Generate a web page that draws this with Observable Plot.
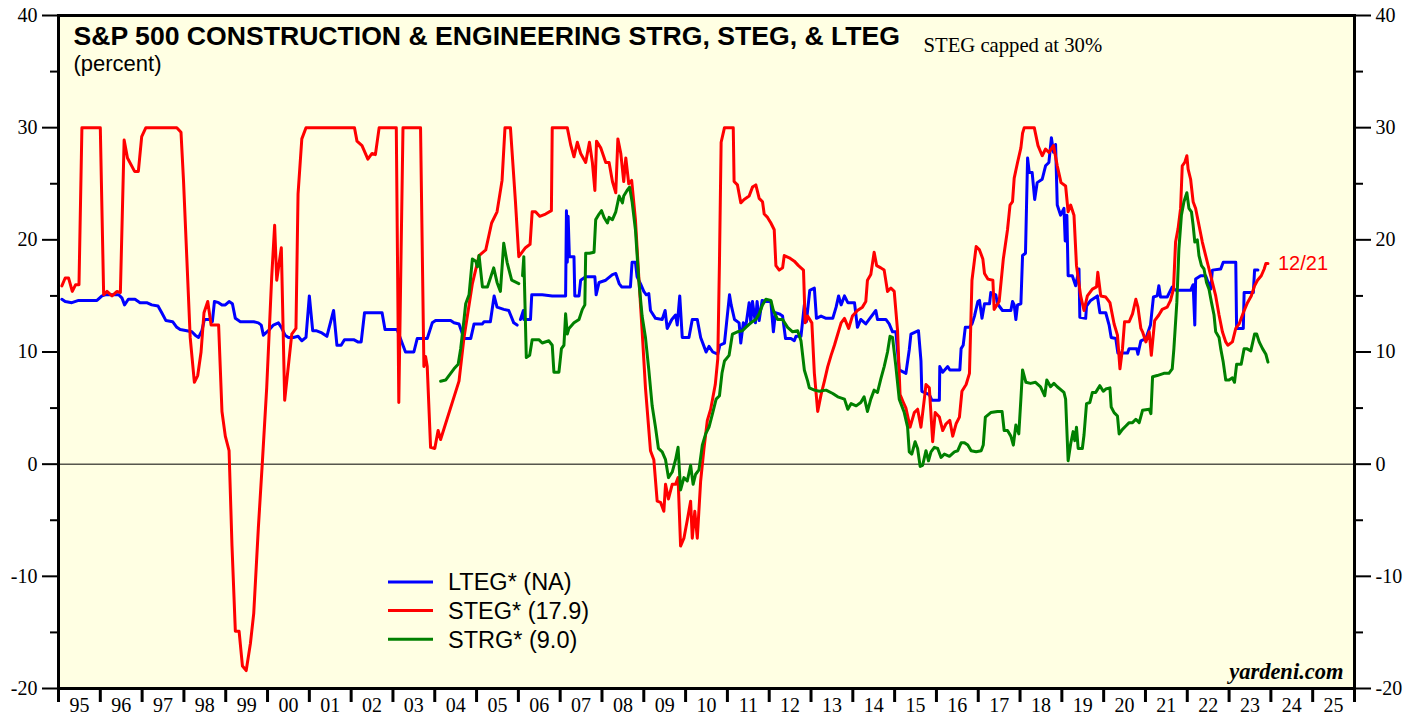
<!DOCTYPE html>
<html><head><meta charset="utf-8">
<script src="https://cdn.jsdelivr.net/npm/d3@7"></script>
<script src="https://cdn.jsdelivr.net/npm/@observablehq/plot@0.6"></script>
<style>
html,body{margin:0;padding:0;background:#fff;overflow:hidden}
#chart svg{display:block}
</style></head><body><div id="chart"></div>
<script>
const title = "S&P 500 CONSTRUCTION & ENGINEERING STRG, STEG, & LTEG";
const subtitle = "(percent)";
const note = "STEG capped at 30%";
const credit = "yardeni.com";
const endLabel = "12/21";
const xLabels = ["95","96","97","98","99","00","01","02","03","04","05","06","07","08","09","10","11","12","13","14","15","16","17","18","19","20","21","22","23","24","25"];
const yTicks = [-20,-10,0,10,20,30,40];
const yMinorTicks = [-15,-5,5,15,25,35];
const seriesNames = ["LTEG*","STEG*","STRG*"];
const seriesLatest = ["NA","17.9","9.0"];
const seriesColors = ["#0000ff","#ff0000","#008000"];

// [decimal year, percent]
const lteg = [[1995.08,14.7],[1995.16,14.5],[1995.32,14.4],[1995.48,14.6],[1995.80,14.6],[1995.92,14.6],[1996.04,15.0],[1996.12,15.1],[1996.44,15.1],[1996.52,14.8],[1996.58,14.2],[1996.67,14.7],[1996.83,14.7],[1996.95,14.4],[1997.11,14.4],[1997.23,14.2],[1997.38,14.1],[1997.47,13.5],[1997.57,12.8],[1997.73,12.7],[1997.83,12.2],[1997.91,12.0],[1998.07,11.9],[1998.19,11.8],[1998.27,11.5],[1998.35,11.3],[1998.43,11.9],[1998.49,12.9],[1998.63,12.9],[1998.68,12.7],[1998.73,14.5],[1998.83,14.4],[1998.91,14.2],[1998.99,14.2],[1999.08,14.5],[1999.16,14.3],[1999.23,13.0],[1999.35,12.7],[1999.67,12.7],[1999.78,12.6],[1999.85,12.4],[1999.90,11.5],[2000.02,11.9],[2000.14,12.4],[2000.26,12.6],[2000.33,12.2],[2000.42,11.5],[2000.50,11.3],[2000.62,11.3],[2000.73,11.4],[2000.82,11.0],[2000.92,11.3],[2001.00,15.0],[2001.08,11.9],[2001.16,11.9],[2001.30,11.7],[2001.42,11.4],[2001.58,13.7],[2001.66,10.6],[2001.76,10.6],[2001.84,11.1],[2002.06,11.1],[2002.16,10.9],[2002.24,10.9],[2002.32,13.5],[2002.74,13.5],[2002.81,12.0],[2003.10,12.0],[2003.21,10.9],[2003.30,10.0],[2003.50,10.0],[2003.58,11.2],[2003.82,11.2],[2003.94,12.6],[2004.02,12.8],[2004.38,12.8],[2004.46,12.6],[2004.58,12.5],[2004.70,11.2],[2004.86,11.2],[2004.94,12.5],[2005.14,12.5],[2005.18,12.7],[2005.33,12.7],[2005.42,15.0],[2005.49,14.0],[2005.65,13.8],[2005.77,13.7],[2005.89,12.6],[2005.97,12.4],[2006.00,null],[2006.05,12.9],[2006.12,13.7],[2006.13,12.9],[2006.29,12.9],[2006.32,15.1],[2006.57,15.1],[2006.81,15.0],[2007.13,15.0],[2007.15,22.6],[2007.17,18.0],[2007.19,22.1],[2007.22,18.5],[2007.33,18.5],[2007.35,15.0],[2007.45,15.0],[2007.49,16.4],[2007.61,16.7],[2007.83,16.7],[2007.86,15.1],[2007.93,16.2],[2008.09,16.4],[2008.25,16.9],[2008.33,17.0],[2008.41,16.1],[2008.47,15.8],[2008.68,15.8],[2008.72,18.0],[2008.80,18.0],[2008.84,16.7],[2008.92,16.1],[2009.00,15.4],[2009.06,15.1],[2009.12,15.2],[2009.16,13.7],[2009.28,13.0],[2009.44,12.9],[2009.51,13.7],[2009.56,12.1],[2009.67,12.9],[2009.76,13.3],[2009.80,12.4],[2009.86,15.0],[2009.92,11.3],[2010.08,11.3],[2010.16,12.9],[2010.28,12.9],[2010.36,11.3],[2010.44,10.5],[2010.49,10.0],[2010.56,10.5],[2010.65,10.0],[2010.77,9.8],[2010.82,10.6],[2010.93,10.8],[2010.98,12.6],[2011.05,15.1],[2011.09,14.2],[2011.17,12.9],[2011.28,12.6],[2011.32,10.8],[2011.38,12.6],[2011.44,12.3],[2011.52,14.4],[2011.56,12.6],[2011.60,14.5],[2011.67,12.6],[2011.71,14.5],[2011.76,12.8],[2011.83,14.6],[2011.92,14.5],[2012.04,14.5],[2012.10,11.8],[2012.15,13.5],[2012.24,13.4],[2012.32,13.2],[2012.39,11.2],[2012.52,11.2],[2012.60,11.0],[2012.64,11.4],[2012.76,11.4],[2012.84,14.2],[2012.89,12.7],[2012.97,15.5],[2013.08,15.7],[2013.13,13.0],[2013.24,13.2],[2013.36,13.0],[2013.52,13.0],[2013.60,14.0],[2013.66,15.0],[2013.72,14.2],[2013.80,15.0],[2013.88,14.4],[2014.04,14.4],[2014.11,12.2],[2014.19,12.9],[2014.31,12.5],[2014.39,12.9],[2014.55,13.7],[2014.59,12.9],[2014.79,12.9],[2014.87,12.5],[2014.95,11.8],[2015.03,11.8],[2015.11,8.4],[2015.27,8.1],[2015.35,10.2],[2015.39,11.6],[2015.57,11.9],[2015.63,9.2],[2015.65,6.5],[2015.83,6.2],[2015.89,5.7],[2016.07,5.7],[2016.08,8.7],[2016.15,8.2],[2016.27,8.7],[2016.32,8.4],[2016.56,8.4],[2016.59,10.3],[2016.64,10.6],[2016.69,12.2],[2016.79,12.2],[2016.85,12.5],[2016.91,13.2],[2016.99,14.5],[2017.03,14.6],[2017.09,13.0],[2017.15,14.3],[2017.27,14.3],[2017.30,15.3],[2017.42,15.1],[2017.46,14.3],[2017.58,13.7],[2017.78,13.7],[2017.82,14.5],[2017.86,14.2],[2017.90,12.9],[2017.94,14.2],[2018.02,14.3],[2018.06,18.6],[2018.13,18.8],[2018.18,27.3],[2018.22,26.0],[2018.29,26.0],[2018.35,23.6],[2018.41,25.1],[2018.53,25.4],[2018.61,26.6],[2018.69,26.9],[2018.75,29.1],[2018.80,27.8],[2018.85,28.5],[2018.89,23.1],[2018.97,22.2],[2019.05,22.8],[2019.08,19.9],[2019.12,22.2],[2019.15,16.8],[2019.25,16.8],[2019.33,15.9],[2019.41,17.4],[2019.43,13.1],[2019.57,13.0],[2019.59,14.1],[2019.69,14.6],[2019.85,15.0],[2019.91,13.5],[2020.05,13.5],[2020.13,12.4],[2020.18,11.3],[2020.29,11.2],[2020.34,9.9],[2020.57,9.9],[2020.61,10.3],[2020.79,10.3],[2020.82,9.8],[2020.89,11.0],[2021.01,11.2],[2021.12,12.4],[2021.19,14.9],[2021.28,15.0],[2021.32,15.9],[2021.36,14.9],[2021.52,14.9],[2021.64,15.8],[2021.72,15.5],[2022.08,15.5],[2022.14,16.0],[2022.18,12.4],[2022.20,16.5],[2022.32,16.8],[2022.44,16.8],[2022.56,15.6],[2022.60,17.3],[2022.80,17.4],[2022.86,18.0],[2023.16,18.0],[2023.18,12.1],[2023.34,12.1],[2023.36,15.3],[2023.58,15.3],[2023.61,17.3],[2023.69,17.3]];

const steg = [[1995.08,15.9],[1995.16,16.6],[1995.24,16.6],[1995.33,15.4],[1995.41,16.0],[1995.49,16.0],[1995.56,30],[1996.00,30],[1996.08,15.1],[1996.16,15.4],[1996.28,15.0],[1996.40,15.4],[1996.48,15.3],[1996.57,28.9],[1996.65,27.3],[1996.82,26.1],[1996.91,26.1],[1996.99,29.2],[1997.09,30],[1997.83,30],[1997.93,29.6],[1997.99,25.3],[1998.07,18.3],[1998.15,11.3],[1998.25,7.3],[1998.33,7.9],[1998.41,10.0],[1998.48,13.5],[1998.57,14.5],[1998.65,12.4],[1998.83,12.4],[1998.91,4.7],[1998.99,2.5],[1999.08,1.2],[1999.15,-7.3],[1999.23,-14.9],[1999.32,-14.9],[1999.40,-18.0],[1999.49,-18.4],[1999.59,-16.0],[1999.67,-13.3],[1999.78,-5.7],[1999.88,0.4],[1999.98,6.8],[2000.10,16.7],[2000.17,21.3],[2000.22,16.4],[2000.33,19.3],[2000.41,5.7],[2000.58,11.6],[2000.68,12.1],[2000.73,24.1],[2000.82,29.0],[2000.92,30],[2002.08,30],[2002.14,28.8],[2002.26,28.4],[2002.40,27.2],[2002.50,27.7],[2002.58,27.6],[2002.67,30],[2003.08,30],[2003.14,5.5],[2003.24,30],[2003.66,30],[2003.74,8.7],[2003.78,9.6],[2003.82,8.7],[2003.90,1.5],[2004.00,1.4],[2004.08,3.0],[2004.14,2.2],[2004.58,7.4],[2004.70,11.3],[2004.90,16.1],[2005.06,18.6],[2005.22,19.1],[2005.36,21.5],[2005.49,22.5],[2005.61,25.3],[2005.68,30],[2005.81,30],[2005.93,23.4],[2006.01,18.5],[2006.09,18.9],[2006.17,19.3],[2006.28,19.6],[2006.33,22.5],[2006.41,22.5],[2006.51,22.1],[2006.65,22.3],[2006.79,22.6],[2006.81,30],[2007.17,30],[2007.25,28.5],[2007.33,27.4],[2007.41,28.7],[2007.49,27.7],[2007.61,26.9],[2007.70,28.7],[2007.77,26.9],[2007.83,24.4],[2007.87,28.8],[2007.97,28.2],[2008.09,26.9],[2008.17,26.9],[2008.25,25.2],[2008.33,24.2],[2008.38,29.0],[2008.45,27.7],[2008.52,25.2],[2008.57,27.3],[2008.64,25.0],[2008.71,25.3],[2008.80,21.8],[2008.88,16.7],[2008.96,11.9],[2009.04,6.8],[2009.16,1.2],[2009.24,0.4],[2009.32,-3.3],[2009.40,-3.4],[2009.48,-4.2],[2009.52,-1.8],[2009.59,-3.1],[2009.68,-1.8],[2009.76,-1.8],[2009.82,-1.2],[2009.88,-7.3],[2009.96,-6.6],[2010.04,-5.0],[2010.12,-3.3],[2010.16,-6.6],[2010.22,-4.2],[2010.28,-6.6],[2010.36,-1.5],[2010.44,1.4],[2010.52,3.9],[2010.60,4.9],[2010.71,7.1],[2010.77,9.4],[2010.81,18.0],[2010.85,28.7],[2010.93,30],[2011.14,30],[2011.16,25.2],[2011.24,24.9],[2011.32,23.3],[2011.40,23.6],[2011.52,23.9],[2011.60,24.7],[2011.68,24.9],[2011.76,23.7],[2011.84,23.4],[2011.88,22.3],[2011.96,22.0],[2012.04,21.5],[2012.12,20.9],[2012.16,17.7],[2012.24,17.3],[2012.32,17.5],[2012.36,18.6],[2012.48,18.4],[2012.60,18.1],[2012.70,17.7],[2012.82,17.3],[2012.86,12.6],[2012.92,13.2],[2013.02,12.6],[2013.08,8.1],[2013.16,4.7],[2013.24,6.2],[2013.32,7.4],[2013.40,8.7],[2013.48,9.7],[2013.56,10.6],[2013.64,11.6],[2013.72,12.6],[2013.80,13.0],[2013.90,12.1],[2013.99,13.2],[2014.11,13.7],[2014.23,14.0],[2014.31,14.5],[2014.35,16.4],[2014.43,16.9],[2014.51,18.9],[2014.57,17.7],[2014.67,17.5],[2014.75,17.3],[2014.83,15.4],[2014.91,15.7],[2014.99,15.4],[2015.07,11.9],[2015.13,6.2],[2015.21,5.5],[2015.27,5.0],[2015.37,3.3],[2015.47,4.6],[2015.55,4.9],[2015.63,3.3],[2015.71,5.8],[2015.75,7.1],[2015.83,6.8],[2015.91,2.0],[2015.97,4.6],[2016.07,4.2],[2016.15,3.0],[2016.23,3.6],[2016.32,3.9],[2016.39,2.5],[2016.47,3.6],[2016.55,4.2],[2016.61,6.5],[2016.71,7.1],[2016.79,8.1],[2016.85,16.4],[2016.95,19.4],[2017.03,19.1],[2017.11,18.3],[2017.15,17.0],[2017.23,16.5],[2017.35,16.4],[2017.38,13.8],[2017.50,14.5],[2017.60,18.3],[2017.70,20.9],[2017.76,23.1],[2017.82,23.4],[2017.86,25.5],[2017.94,26.9],[2018.02,28.2],[2018.06,29.5],[2018.10,30],[2018.34,30],[2018.43,28.4],[2018.53,27.5],[2018.61,28.1],[2018.69,27.8],[2018.80,28.4],[2018.89,26.6],[2018.98,25.1],[2019.09,24.8],[2019.15,22.5],[2019.21,23.1],[2019.29,22.2],[2019.35,17.7],[2019.45,15.0],[2019.53,13.7],[2019.61,15.0],[2019.73,15.6],[2019.83,15.8],[2019.86,17.1],[2019.93,15.0],[2020.05,14.9],[2020.15,14.4],[2020.25,12.5],[2020.33,11.5],[2020.39,8.5],[2020.45,10.3],[2020.50,12.7],[2020.61,12.7],[2020.69,13.4],[2020.77,14.7],[2020.82,14.0],[2020.89,12.1],[2020.93,11.8],[2021.01,10.9],[2021.09,11.8],[2021.14,9.7],[2021.22,12.8],[2021.32,13.3],[2021.40,13.8],[2021.52,14.0],[2021.60,14.6],[2021.67,15.6],[2021.72,19.8],[2021.78,21.0],[2021.84,22.8],[2021.88,26.6],[2021.94,26.9],[2021.99,27.5],[2022.02,26.3],[2022.08,25.4],[2022.14,23.4],[2022.20,22.8],[2022.28,21.3],[2022.36,19.8],[2022.44,18.6],[2022.52,17.4],[2022.60,16.2],[2022.68,15.0],[2022.76,13.3],[2022.84,11.8],[2022.92,10.9],[2022.97,10.6],[2023.08,10.9],[2023.16,12.1],[2023.24,12.5],[2023.34,13.5],[2023.44,14.4],[2023.53,15.0],[2023.61,15.9],[2023.68,16.4],[2023.77,16.8],[2023.84,17.4],[2023.88,17.9],[2023.93,17.9]];

const strg = [[2004.14,7.4],[2004.26,7.5],[2004.38,8.1],[2004.46,8.5],[2004.56,8.9],[2004.62,10.3],[2004.70,12.9],[2004.74,14.3],[2004.82,15.1],[2004.86,16.7],[2004.90,18.3],[2004.98,18.1],[2005.02,17.6],[2005.06,18.6],[2005.14,15.8],[2005.26,15.8],[2005.34,16.7],[2005.41,17.5],[2005.49,16.2],[2005.57,15.4],[2005.65,19.7],[2005.73,18.0],[2005.84,16.4],[2006.01,16.1],[2006.05,null],[2006.10,16.8],[2006.13,18.5],[2006.19,9.5],[2006.27,9.7],[2006.33,11.1],[2006.49,11.1],[2006.57,10.8],[2006.73,11.0],[2006.81,10.6],[2006.85,8.2],[2006.97,8.2],[2007.03,10.3],[2007.09,10.6],[2007.13,13.4],[2007.17,11.6],[2007.21,12.1],[2007.33,12.6],[2007.45,12.9],[2007.53,13.8],[2007.59,14.2],[2007.61,18.8],[2007.70,18.8],[2007.81,18.9],[2007.85,21.8],[2007.93,22.3],[2007.99,22.6],[2008.05,22.0],[2008.13,21.5],[2008.17,22.0],[2008.25,21.8],[2008.33,22.5],[2008.41,23.9],[2008.49,23.3],[2008.52,23.9],[2008.60,24.4],[2008.66,24.7],[2008.72,23.4],[2008.80,20.9],[2008.88,16.4],[2008.96,13.2],[2009.04,11.3],[2009.12,8.4],[2009.20,5.2],[2009.28,3.3],[2009.35,1.4],[2009.44,1.1],[2009.52,0.4],[2009.59,-1.2],[2009.68,-0.7],[2009.76,0.4],[2009.82,1.5],[2009.88,-2.3],[2009.96,-1.2],[2010.04,-1.5],[2010.12,-0.1],[2010.18,-1.8],[2010.24,-0.9],[2010.32,-0.5],[2010.40,1.7],[2010.48,2.7],[2010.56,3.3],[2010.65,4.6],[2010.73,5.8],[2010.81,6.1],[2010.87,8.1],[2010.93,9.2],[2011.04,9.7],[2011.12,11.6],[2011.24,11.8],[2011.36,11.9],[2011.44,12.2],[2011.56,12.6],[2011.68,12.9],[2011.76,13.4],[2011.84,14.2],[2011.92,14.7],[2012.04,14.6],[2012.10,13.7],[2012.20,12.9],[2012.32,12.9],[2012.44,12.2],[2012.56,11.8],[2012.68,11.9],[2012.76,11.0],[2012.84,8.4],[2012.92,7.4],[2012.96,6.8],[2013.08,6.6],[2013.20,6.5],[2013.36,6.6],[2013.52,6.3],[2013.64,6.0],[2013.80,5.8],[2013.88,4.9],[2013.96,5.4],[2014.08,5.2],[2014.19,5.5],[2014.27,6.0],[2014.35,4.7],[2014.43,5.8],[2014.51,6.6],[2014.59,6.4],[2014.67,7.6],[2014.75,8.7],[2014.83,10.0],[2014.89,11.4],[2014.95,11.3],[2015.03,8.7],[2015.11,5.8],[2015.23,4.6],[2015.31,3.3],[2015.35,1.1],[2015.41,0.9],[2015.49,2.0],[2015.55,1.4],[2015.61,-0.2],[2015.67,-0.1],[2015.75,1.2],[2015.81,0.3],[2015.87,1.1],[2015.95,1.5],[2016.03,1.4],[2016.11,0.6],[2016.19,0.9],[2016.31,0.7],[2016.43,1.1],[2016.51,1.2],[2016.59,1.9],[2016.67,1.9],[2016.75,1.7],[2016.83,1.2],[2016.95,1.1],[2017.07,1.2],[2017.12,1.7],[2017.17,4.2],[2017.30,4.6],[2017.46,4.7],[2017.57,4.7],[2017.62,3.0],[2017.70,3.0],[2017.78,2.5],[2017.84,1.7],[2017.90,3.5],[2017.97,2.7],[2018.02,5.8],[2018.06,8.4],[2018.14,7.3],[2018.25,7.2],[2018.37,7.3],[2018.49,6.9],[2018.59,6.1],[2018.64,7.5],[2018.73,6.9],[2018.81,7.2],[2018.89,6.9],[2019.05,6.4],[2019.09,5.8],[2019.15,0.3],[2019.21,1.8],[2019.27,2.9],[2019.31,2.1],[2019.35,3.3],[2019.39,1.4],[2019.49,1.4],[2019.53,2.6],[2019.59,5.4],[2019.67,5.5],[2019.73,6.4],[2019.81,6.4],[2019.91,7.0],[2019.99,6.5],[2020.05,6.7],[2020.15,6.8],[2020.18,5.1],[2020.25,4.6],[2020.33,4.3],[2020.37,2.7],[2020.45,3.1],[2020.53,3.4],[2020.61,3.7],[2020.69,3.7],[2020.77,4.0],[2020.85,3.7],[2020.93,4.8],[2021.09,4.9],[2021.13,4.5],[2021.17,7.8],[2021.28,7.9],[2021.44,8.1],[2021.56,8.1],[2021.64,8.5],[2021.68,10.3],[2021.75,14.4],[2021.80,19.2],[2021.86,22.2],[2021.92,23.4],[2021.99,24.2],[2022.04,22.8],[2022.10,22.5],[2022.14,21.3],[2022.18,19.8],[2022.24,20.0],[2022.28,18.6],[2022.34,17.7],[2022.40,17.4],[2022.46,16.2],[2022.52,15.6],[2022.58,14.4],[2022.64,13.3],[2022.68,11.8],[2022.76,11.3],[2022.80,10.3],[2022.86,9.1],[2022.92,7.5],[2023.00,7.5],[2023.08,7.7],[2023.13,7.3],[2023.18,8.9],[2023.29,8.9],[2023.36,10.3],[2023.42,10.3],[2023.52,10.1],[2023.61,11.6],[2023.66,11.6],[2023.72,10.9],[2023.80,10.3],[2023.88,9.8],[2023.93,9.1]];

const firstYear = 1995;
const yearEdges = d3.range(xLabels.length + 1).map(i => firstYear + i);
const yearMids = xLabels.map((_, i) => firstYear + i + 0.5);
const seriesData = [lteg, steg, strg];
const rows = (arr) => arr.map(([t, v]) => ({t, v}));

const SERIF = "Liberation Serif, Times New Roman, serif";
const SANS = "Liberation Sans, Arial, Helvetica, sans-serif";
const BG = "#ffffe3";

const W = 1419, H = 717;
const M = {top: 15, right: 65, bottom: 29, left: 58};

const plot = Plot.plot({
  width: W, height: H,
  marginTop: M.top, marginRight: M.right, marginBottom: M.bottom, marginLeft: M.left,
  style: {background: "#ffffff", color: "black", fontFamily: SERIF, fontSize: "20px", overflow: "visible"},
  x: {type: "linear", domain: [firstYear, firstYear + xLabels.length], axis: null},
  y: {domain: [-20, 40], axis: null},
  marks: [
    Plot.frame({fill: BG, stroke: "none"}),
    Plot.ruleY([0], {stroke: "black", strokeWidth: 1}),
    ...seriesData.map((arr, i) => Plot.line(rows(arr), {x: "t", y: "v", stroke: seriesColors[i], strokeWidth: 3})),
    Plot.text([steg[steg.length - 1]], {x: d => d[0], y: d => d[1], text: () => endLabel, dx: 10, textAnchor: "start", fill: seriesColors[1], fontFamily: SANS, fontSize: 20}),
    Plot.text([title], {text: d => d, frameAnchor: "top-left", dx: 15, dy: 29.3, lineAnchor: "bottom", textAnchor: "start", fontFamily: SANS, fontWeight: "bold", fontSize: 26.6, fill: "black"}),
    Plot.text([subtitle], {text: d => d, frameAnchor: "top-left", dx: 15, dy: 55.5, lineAnchor: "bottom", textAnchor: "start", fontFamily: SANS, fontSize: 22, fill: "black"}),
    Plot.text([note], {text: d => d, frameAnchor: "top-left", dx: 865, dy: 36, lineAnchor: "bottom", textAnchor: "start", fontFamily: SERIF, fontSize: 20.7, fill: "black"}),
    Plot.text([credit], {text: d => d, frameAnchor: "bottom-right", dx: -11, dy: -10, lineAnchor: "bottom", textAnchor: "end", fontFamily: SERIF, fontWeight: "bold", fontStyle: "italic", fontSize: 22.5, fill: "black"}),
    Plot.axisY(yTicks, {anchor: "left", tickSize: 16, tickPadding: 5, strokeWidth: 2, fontFamily: SERIF, fontSize: 20, label: null, tickFormat: d => String(d)}),
    Plot.axisY(yMinorTicks, {anchor: "left", tickSize: 8, strokeWidth: 2, text: null, label: null}),
    Plot.axisY(yTicks, {anchor: "right", tickSize: 16, tickPadding: 5, strokeWidth: 2, fontFamily: SERIF, fontSize: 20, label: null, tickFormat: d => String(d)}),
    Plot.axisY(yMinorTicks, {anchor: "right", tickSize: 8, strokeWidth: 2, text: null, label: null}),
    Plot.axisX(yearEdges, {anchor: "bottom", tickSize: 14, strokeWidth: 3, text: null, label: null}),
    Plot.axisX(yearMids, {anchor: "bottom", tickSize: 0, tickPadding: 9, fontFamily: SERIF, fontSize: 20, label: null, tickFormat: d => xLabels[Math.floor(d) - firstYear]}),
    Plot.frame({stroke: "black", strokeWidth: 3})
  ]
});

// legend (inside plot area)
const svg = d3.select(plot);
const lg = svg.append("g").attr("class", "legend").attr("text-anchor", "start");
seriesNames.forEach((name, i) => {
  const y = 582 + i * 28.6;
  lg.append("line").attr("x1", 388).attr("x2", 433).attr("y1", y).attr("y2", y)
    .attr("stroke", seriesColors[i]).attr("stroke-width", 3);
  lg.append("text").attr("x", 448).attr("y", y).attr("dy", "0.36em")
    .attr("text-anchor", "start")
    .attr("font-family", SANS).attr("font-size", 23.5).attr("fill", "black")
    .text(`${name} (${seriesLatest[i]})`);
});

document.getElementById("chart").appendChild(plot);
</script></body></html>
